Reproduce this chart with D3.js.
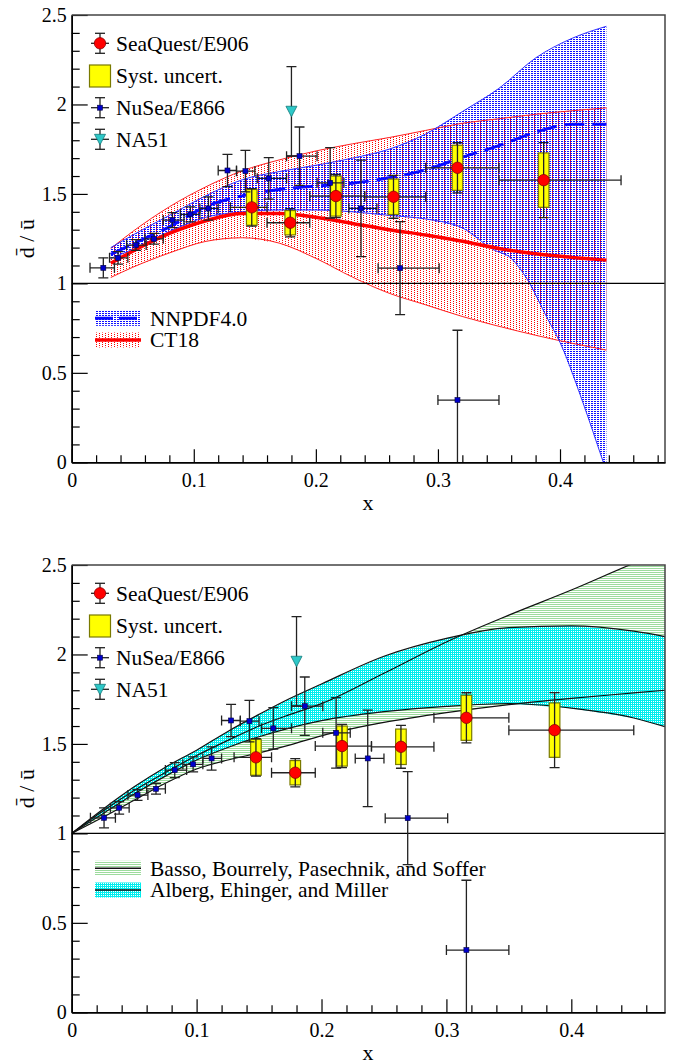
<!DOCTYPE html>
<html>
<head>
<meta charset="utf-8">
<script src="https://cdn.jsdelivr.net/npm/d3@7"></script>
<style>
  body { margin: 0; background: #fff; }
  svg { display: block; }
  text { font-family: "Liberation Serif", "Times New Roman", Times, "DejaVu Serif", serif; fill: #000; }
</style>
</head>
<body>
<svg id="chart" width="681" height="1064"></svg>
<script>
// ---- data ----
// SeaQuest / E906
const seaX    = [0.1475, 0.179, 0.2164, 0.2636, 0.316, 0.3866];
const seaXlo  = [0.130, 0.160, 0.195, 0.240, 0.290, 0.350];
const seaXhi  = [0.160, 0.195, 0.240, 0.290, 0.350, 0.450];
const seaY    = [1.425, 1.339, 1.488, 1.484, 1.646, 1.577];
const seaStat = [0.105, 0.079, 0.121, 0.120, 0.140, 0.210];
const seaSyst = [0.100, 0.068, 0.112, 0.099, 0.126, 0.152];

// NuSea / E866
const nuX   = [0.0259, 0.038, 0.0527, 0.0675, 0.0825, 0.0972, 0.112, 0.1276, 0.1423, 0.1614, 0.1866, 0.2117, 0.237, 0.269, 0.316];
const nuXlo = [0.015, 0.031, 0.045, 0.060, 0.075, 0.089, 0.105, 0.120, 0.135, 0.152, 0.176, 0.201, 0.227, 0.251, 0.300];
const nuXhi = [0.035, 0.046, 0.061, 0.075, 0.092, 0.105, 0.120, 0.135, 0.150, 0.176, 0.201, 0.223, 0.250, 0.301, 0.350];
const nuY   = [1.087, 1.143, 1.214, 1.249, 1.354, 1.386, 1.419, 1.631, 1.627, 1.587, 1.711, 1.562, 1.419, 1.085, 0.348];
const nuErr = [0.056, 0.035, 0.030, 0.030, 0.042, 0.042, 0.065, 0.090, 0.116, 0.116, 0.163, 0.197, 0.270, 0.260, 0.390];

// NA51
const naX = [0.180];
const naY = [1.962];
const naErr = [0.250];

// top panel: NNPDF4.0 and CT18 bands
const pdfX      = [0.032, 0.05, 0.08, 0.11, 0.14, 0.17, 0.20, 0.23, 0.26, 0.29, 0.32, 0.35, 0.38, 0.41, 0.438];
const ct18Up    = [1.195, 1.29, 1.428, 1.54, 1.63, 1.69, 1.74, 1.78, 1.815, 1.855, 1.895, 1.92, 1.945, 1.965, 1.981];
const ct18Mid   = [1.112, 1.18, 1.279, 1.35, 1.39, 1.39, 1.37, 1.335, 1.30, 1.27, 1.235, 1.195, 1.165, 1.145, 1.13];
const ct18Lo    = [1.033, 1.09, 1.17, 1.235, 1.255, 1.225, 1.14, 1.035, 0.945, 0.88, 0.815, 0.76, 0.71, 0.665, 0.627];
const nnpdfUp   = [1.20, 1.27, 1.38, 1.49, 1.58, 1.625, 1.66, 1.70, 1.75, 1.835, 1.96, 2.09, 2.26, 2.37, 2.437];
const nnpdfMid  = [1.162, 1.22, 1.316, 1.43, 1.49, 1.525, 1.544, 1.56, 1.59, 1.635, 1.705, 1.77, 1.845, 1.89, 1.89];
const nnpdfLoX  = [0.032, 0.05, 0.08, 0.11, 0.14, 0.17, 0.20, 0.23, 0.26, 0.29, 0.32, 0.345, 0.36, 0.3725, 0.39, 0.40, 0.42, 0.434, 0.438];
const nnpdfLo   = [1.14, 1.19, 1.29, 1.37, 1.40, 1.41, 1.41, 1.40, 1.38, 1.36, 1.31, 1.19, 1.14, 1.03, 0.80, 0.67, 0.31, 0.03, -0.05];

// bottom panel: model bands
const modX    = [0, 0.025, 0.05, 0.075, 0.10, 0.125, 0.15, 0.175, 0.20, 0.25, 0.30, 0.35, 0.40, 0.45, 0.475];
const bassoUp = [1, 1.125, 1.24, 1.34, 1.435, 1.52, 1.60, 1.665, 1.725, 1.895, 2.07, 2.22, 2.36, 2.51, 2.58];
const bassoLo = [1, 1.09, 1.185, 1.28, 1.36, 1.41, 1.45, 1.495, 1.545, 1.62, 1.675, 1.72, 1.755, 1.785, 1.80];
const albUp   = [1, 1.135, 1.26, 1.37, 1.465, 1.57, 1.665, 1.755, 1.835, 1.99, 2.09, 2.15, 2.16, 2.13, 2.10];
const albLo   = [1, 1.11, 1.22, 1.32, 1.41, 1.48, 1.54, 1.59, 1.63, 1.68, 1.71, 1.726, 1.70, 1.645, 1.596];

const xTicks = [0, 0.1, 0.2, 0.3, 0.4];
const yTicks = [0, 0.5, 1, 1.5, 2, 2.5];

const svg = d3.select("#chart");
const defs = svg.append("defs");

function pattern(id, w, h, cells) {
  const p = defs.append("pattern").attr("id", id)
    .attr("patternUnits", "userSpaceOnUse").attr("width", w).attr("height", h);
  cells.forEach(c => p.append("rect").attr("x", c[0]).attr("y", c[1])
    .attr("width", c[2]).attr("height", c[3]).attr("fill", c[4]).attr("shape-rendering", "crispEdges"));
}
pattern("redDots", 6, 2, [[0, 0, 1, 1, "#ff0000"], [3, 1, 1, 1, "#ff0000"]]);
pattern("blueDots", 3, 2, [[0, 1, 2, 1, "#1010ff"]]);
pattern("greenHatch", 2, 2, [[0, 0, 2, 1, "#9ddb9d"]]);
pattern("cyanDots", 2, 2, [[0, 0, 2, 1, "#00eeee"], [0, 1, 1, 1, "#00eeee"]]);

const left = 71.7, right = 665;
const smooth = d3.line().curve(d3.curveMonotoneX);

function bandFill(g, x, y, xs, up, lo, fill, xsLo) {
  const xl = xsLo || xs;
  const pts = xs.map((d, i) => [x(d), y(up[i])])
    .concat(xl.map((d, i) => [x(d), y(lo[i])]).reverse());
  g.append("path").attr("d", "M" + pts.join("L") + "Z").attr("fill", fill);
}

function bandLines(g, x, y, xs, up, lo, stroke, strokeW, xsLo) {
  const xl = xsLo || xs;
  g.append("path").attr("d", smooth(xs.map((d, i) => [x(d), y(up[i])])))
    .attr("fill", "none").attr("stroke", stroke).attr("stroke-width", strokeW);
  g.append("path").attr("d", smooth(xl.map((d, i) => [x(d), y(lo[i])])))
    .attr("fill", "none").attr("stroke", stroke).attr("stroke-width", strokeW);
}

function errBar(g, x1, y1, x2, y2) {
  g.append("line").attr("x1", x1).attr("y1", y1).attr("x2", x2).attr("y2", y2)
    .attr("stroke", "#222").attr("stroke-width", 1.3);
}

function drawData(g, x, y) {
  // SeaQuest syst boxes
  seaX.forEach((d, i) => {
    g.append("rect").attr("x", x(d) - 5.3).attr("width", 10.6)
      .attr("y", y(seaY[i] + seaSyst[i])).attr("height", y(seaY[i] - seaSyst[i]) - y(seaY[i] + seaSyst[i]))
      .attr("fill", "#ffff00").attr("stroke", "#7a7a00").attr("stroke-width", 1.2);
  });
  // NuSea
  nuX.forEach((d, i) => {
    const cx = x(d), cy = y(nuY[i]), t = y(nuY[i] + nuErr[i]), b = y(nuY[i] - nuErr[i]);
    const l = x(nuXlo[i]), r = x(nuXhi[i]);
    errBar(g, l, cy, r, cy); errBar(g, l, cy - 5, l, cy + 5); errBar(g, r, cy - 5, r, cy + 5);
    errBar(g, cx, t, cx, b); errBar(g, cx - 5, t, cx + 5, t); errBar(g, cx - 5, b, cx + 5, b);
    g.append("rect").attr("x", cx - 2.5).attr("y", cy - 2.5).attr("width", 5).attr("height", 5)
      .attr("fill", "#0000cc").attr("stroke", "#000044").attr("stroke-width", 0.6);
  });
  // NA51
  naX.forEach((d, i) => {
    const cx = x(d), cy = y(naY[i]), t = y(naY[i] + naErr[i]), b = y(naY[i] - naErr[i]);
    errBar(g, cx, t, cx, b); errBar(g, cx - 5, t, cx + 5, t); errBar(g, cx - 5, b, cx + 5, b);
    g.append("path").attr("d", `M${cx - 5.5},${cy - 5}L${cx + 5.5},${cy - 5}L${cx},${cy + 5.5}Z`)
      .attr("fill", "#2ec8c8").attr("stroke", "#137a7a").attr("stroke-width", 0.8);
  });
  // SeaQuest stat
  seaX.forEach((d, i) => {
    const cx = x(d), cy = y(seaY[i]), t = y(seaY[i] + seaStat[i]), b = y(seaY[i] - seaStat[i]);
    const l = x(seaXlo[i]), r = x(seaXhi[i]);
    errBar(g, l, cy, r, cy); errBar(g, l, cy - 5, l, cy + 5); errBar(g, r, cy - 5, r, cy + 5);
    errBar(g, cx, t, cx, b); errBar(g, cx - 5, t, cx + 5, t); errBar(g, cx - 5, b, cx + 5, b);
    g.append("circle").attr("cx", cx).attr("cy", cy).attr("r", 5.7)
      .attr("fill", "#ff0000").attr("stroke", "#8a0000").attr("stroke-width", 0.8);
  });
}

function legendData(g, top) {
  const lx = 100, tx = 116;
  const ys = [top + 28.3, top + 61, top + 92.7, top + 124.3];
  const labels = ["SeaQuest/E906", "Syst. uncert.", "NuSea/E866", "NA51"];
  [0, 2, 3].forEach(k => {
    const cy = ys[k];
    errBar(g, lx, cy - 10, lx, cy + 10); errBar(g, lx - 5, cy - 10, lx + 5, cy - 10); errBar(g, lx - 5, cy + 10, lx + 5, cy + 10);
    errBar(g, lx - 9, cy, lx + 9, cy);
  });
  g.append("circle").attr("cx", lx).attr("cy", ys[0]).attr("r", 5.7)
    .attr("fill", "#ff0000").attr("stroke", "#8a0000").attr("stroke-width", 0.8);
  g.append("rect").attr("x", lx - 10.5).attr("y", ys[1] - 11).attr("width", 21).attr("height", 22)
    .attr("fill", "#ffff00").attr("stroke", "#7a7a00").attr("stroke-width", 1.2);
  g.append("rect").attr("x", lx - 2.5).attr("y", ys[2] - 2.5).attr("width", 5).attr("height", 5)
    .attr("fill", "#0000cc").attr("stroke", "#000044").attr("stroke-width", 0.6);
  g.append("path").attr("d", `M${lx - 5.5},${ys[3] - 5}L${lx + 5.5},${ys[3] - 5}L${lx},${ys[3] + 5.5}Z`)
    .attr("fill", "#2ec8c8").attr("stroke", "#137a7a").attr("stroke-width", 0.8);
  labels.forEach((t, k) => g.append("text").attr("x", tx).attr("y", ys[k]).attr("dy", "0.34em")
    .attr("font-size", 21.5).text(t));
}

function legendBands(g, top, entries) {
  entries.forEach((e, k) => {
    const cy = top + 303.3 + k * 21.7;
    g.append("rect").attr("x", 95).attr("y", cy - 7.5).attr("width", 46).attr("height", 15).attr("fill", e.fill);
    g.append("line").attr("x1", 95).attr("x2", 141).attr("y1", cy).attr("y2", cy)
      .attr("stroke", e.stroke).attr("stroke-width", e.width).attr("stroke-dasharray", e.dash || null);
    g.append("text").attr("x", 150).attr("y", cy).attr("dy", "0.34em").attr("font-size", 21.5).text(e.label);
  });
}

function panel(top, bottom, xmax, id, drawBands, bandLegend) {
  const x = d3.scaleLinear().domain([0, xmax]).range([left, right]);
  const y = d3.scaleLinear().domain([0, 2.5]).range([bottom, top]);
  defs.append("clipPath").attr("id", id).append("rect")
    .attr("x", left).attr("y", top).attr("width", right - left).attr("height", bottom - top);
  const g = svg.append("g").attr("clip-path", `url(#${id})`);
  drawBands(g, x, y);
  g.append("line").attr("x1", left).attr("x2", right).attr("y1", y(1)).attr("y2", y(1))
    .attr("stroke", "#000").attr("stroke-width", 1.3);
  drawData(g, x, y);
  legendData(svg, top);
  legendBands(svg, top, bandLegend);

  // axes, ticks pointing inward
  const minorX = d3.range(0, xmax + 1e-9, 0.02).filter(v => Math.abs(v * 10 - Math.round(v * 10)) > 1e-6);
  const minorY = d3.range(0, 2.5001, 0.1).filter(v => Math.abs(v * 2 - Math.round(v * 2)) > 1e-6);
  const ax = svg.append("g").attr("transform", `translate(0,${bottom})`);
  ax.call(d3.axisBottom(x).tickValues(xTicks).tickSize(-13).tickSizeOuter(0).tickPadding(11).tickFormat(d => String(d)));
  const axm = svg.append("g").attr("transform", `translate(0,${bottom})`);
  axm.call(d3.axisBottom(x).tickValues(minorX).tickSize(-7).tickSizeOuter(0).tickFormat(""));
  const ay = svg.append("g").attr("transform", `translate(${left},0)`);
  ay.call(d3.axisLeft(y).tickValues(yTicks).tickSize(-16).tickSizeOuter(0).tickPadding(5).tickFormat(d => String(d)));
  const aym = svg.append("g").attr("transform", `translate(${left},0)`);
  aym.call(d3.axisLeft(y).tickValues(minorY).tickSize(-8).tickSizeOuter(0).tickFormat(""));
  [ax, axm, ay, aym].forEach(a => a.attr("font-family", null));
  svg.selectAll(".domain").attr("stroke", "#000").attr("stroke-width", 1.5);
  svg.selectAll(".tick line").attr("stroke", "#000").attr("stroke-width", 1.2);
  svg.selectAll(".tick text").attr("font-size", 20).attr("fill", "#000");

  svg.append("path").attr("d", `M${left},${top}L${right},${top}L${right},${bottom}`)
    .attr("fill", "none").attr("stroke", "#444").attr("stroke-width", 1.5);

  svg.append("text").attr("x", 368).attr("y", bottom + 48).attr("text-anchor", "middle")
    .attr("font-size", 22).text("x");
  svg.append("text").attr("transform", `translate(34,${(top + bottom) / 2}) rotate(-90)`)
    .attr("text-anchor", "middle").attr("font-size", 22).text("d\u0304 / \u016b");
}

panel(15, 462.3, 0.486, "clipTop", (g, x, y) => {
  bandFill(g, x, y, pdfX, ct18Up, ct18Lo, "url(#redDots)");
  bandFill(g, x, y, pdfX, nnpdfUp, nnpdfLo, "url(#blueDots)", nnpdfLoX);
  bandLines(g, x, y, pdfX, ct18Up, ct18Lo, "#ff2020", 1);
  bandLines(g, x, y, pdfX, nnpdfUp, nnpdfLo, "#3030ff", 1, nnpdfLoX);
  g.append("path").attr("d", smooth(pdfX.map((d, i) => [x(d), y(ct18Mid[i])])))
    .attr("fill", "none").attr("stroke", "#ff0000").attr("stroke-width", 3.5);
  g.append("path").attr("d", smooth(pdfX.map((d, i) => [x(d), y(nnpdfMid[i])])))
    .attr("fill", "none").attr("stroke", "#0a0aff").attr("stroke-width", 3).attr("stroke-dasharray", "20,8");
}, [
  { label: "NNPDF4.0", fill: "url(#blueDots)", stroke: "#0a0aff", width: 3, dash: "18,6" },
  { label: "CT18", fill: "url(#redDots)", stroke: "#ff0000", width: 3.5 }
]);

panel(565, 1012.3, 0.475, "clipBot", (g, x, y) => {
  bandFill(g, x, y, modX, bassoUp, bassoLo, "url(#greenHatch)");
  bandFill(g, x, y, modX, albUp, albLo, "url(#cyanDots)");
  bandLines(g, x, y, modX, bassoUp, bassoLo, "#111", 1.2);
  bandLines(g, x, y, modX, albUp, albLo, "#111", 1.2);
}, [
  { label: "Basso, Bourrely, Pasechnik, and Soffer", fill: "url(#greenHatch)", stroke: "#111", width: 1.5 },
  { label: "Alberg, Ehinger, and Miller", fill: "url(#cyanDots)", stroke: "#111", width: 1.5 }
]);
</script>
</body>
</html>
